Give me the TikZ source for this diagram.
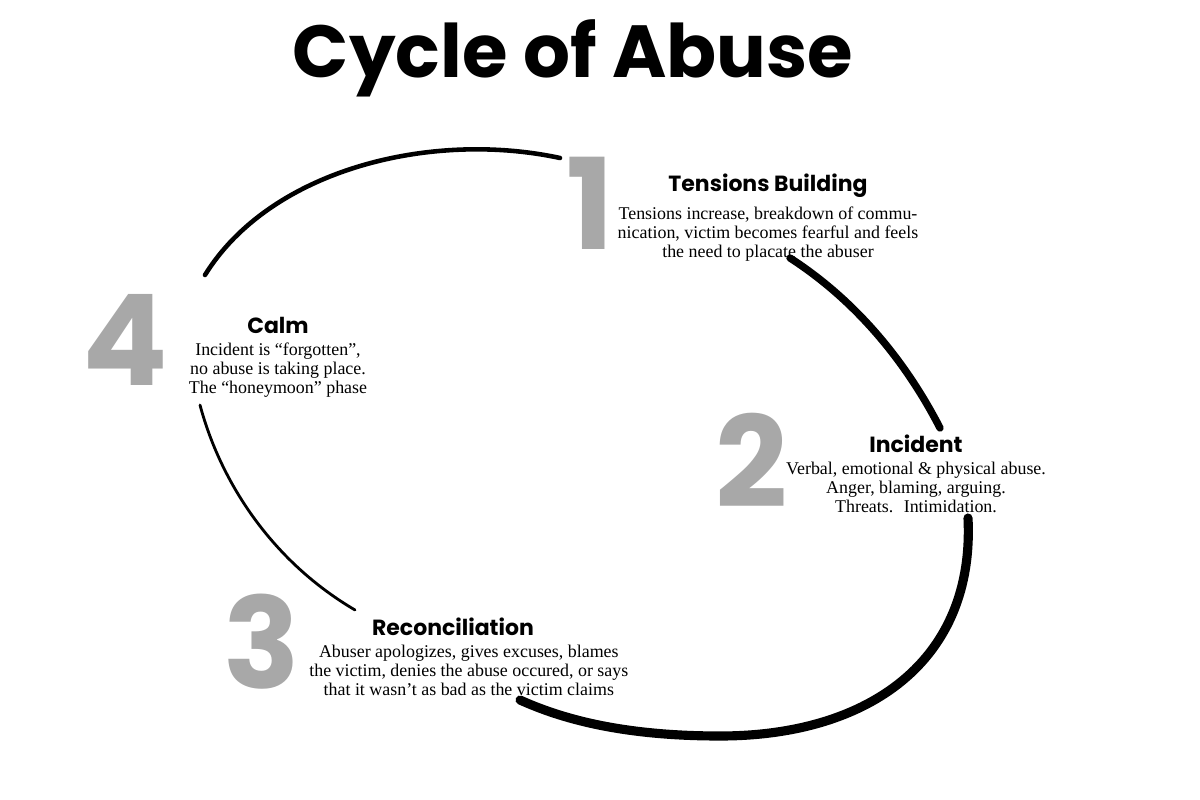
\documentclass[tikz,border=0pt]{standalone}
\usepackage{fontspec}
\setmainfont{Liberation Serif}
\newfontfamily\headfont{Poppins}
\usetikzlibrary{positioning}
\definecolor{numgray}{RGB}{168,168,168}

\begin{document}
\begin{tikzpicture}[
    x=0.02cm, y=-0.02cm,
    title/.style={font=\headfont\bfseries\fontsize{42}{48}\selectfont},
    bignum/.style={font=\headfont\bfseries\fontsize{72}{78}\selectfont, text=numgray},
    head/.style={font=\headfont\bfseries\fontsize{12.5}{14}\selectfont, inner sep=0pt},
    body/.style={font=\fontsize{10.2}{10.8}\selectfont, align=center, inner sep=0pt},
    arc/.style={draw=black, line cap=round}
]
\useasboundingbox (0,0) rectangle (1200,800);

\node[title] (ttl) at (573,58) {Cycle of Abuse};

% phase 1
\node[bignum] (n1) at (590,203) {1};
\node[head] (h1) at (768,186) {Tensions Building};
\node[body, below=5pt of h1] (b1) {Tensions increase, breakdown of commu-\\nication, victim becomes fearful and feels\\the need to placate the abuser};

% phase 2
\node[bignum] (n2) at (752,460) {2};
\node[head] (h2) at (916,444) {Incident};
\node[body, below=5pt of h2] (b2) {Verbal, emotional \& physical abuse.\\Anger, blaming, arguing.\\Threats.~ Intimidation.};

% phase 3
\node[bignum] (n3) at (262,642) {3};
\node[head] (h3) at (453,627) {Reconciliation};
\node[body, below=5pt of h3, xshift=9pt] (b3) {Abuser apologizes, gives excuses, blames\\the victim, denies the abuse occured, or says\\that it wasn't as bad as the victim claims};

% phase 4
\node[bignum] (n4) at (125,340) {4};
\node[head] (h4) at (278,325) {Calm};
\node[body, below=5pt of h4] (b4) {Incident is ``forgotten'',\\no abuse is taking place.\\The ``honeymoon'' phase};

% cycle arcs
\draw[arc, line width=2.6pt] (205,275) .. controls (270,170) and (430,130) .. (560,158);
\draw[arc, line width=4.2pt] (790,258) .. controls (855,300) and (905,360) .. (940,428);
\draw[arc, line width=5.2pt] (968,518) .. controls (975,660) and (870,736) .. (720,736)
    .. controls (620,736) and (560,718) .. (520,700);
\draw[arc, line width=1.6pt] (200,405) .. controls (220,480) and (270,560) .. (355,610);
\end{tikzpicture}
\end{document}
